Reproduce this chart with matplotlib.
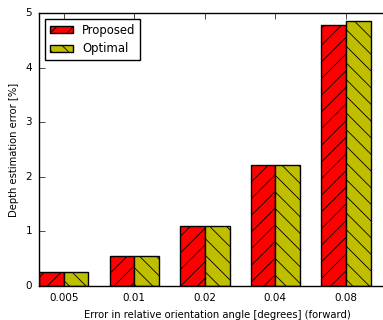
import numpy as np
import matplotlib
matplotlib.use('Agg')
import matplotlib.pyplot as plt

plt.style.use('classic')
plt.rcParams['hatch.linewidth'] = 0.6

angles = ['0.005', '0.01', '0.02', '0.04', '0.08']
proposed = [0.26, 0.545, 1.10, 2.22, 4.78]
optimal = [0.26, 0.545, 1.10, 2.22, 4.86]

fig = plt.figure(figsize=(3.83, 3.20), dpi=100)
fig.patch.set_facecolor('white')
ax = fig.add_axes([0.102, 0.106, 0.93, 0.853])

x = np.arange(len(angles))
w = 0.35
ax.bar(x - w, proposed, w, align='edge', color='r', edgecolor='k', hatch='//', label='Proposed')
ax.bar(x, optimal, w, align='edge', color='y', edgecolor='k', hatch='\\\\', label='Optimal')

ax.set_xlim(-0.35, 4.70)
ax.set_ylim(0, 5)
ax.set_xticks(x)
ax.set_xticklabels(angles)
ax.set_yticks([0, 1, 2, 3, 4, 5])
ax.tick_params(labelsize=7.5, pad=5)
ax.set_xlabel('Error in relative orientation angle [degrees] (forward)', fontsize=7.2)
ax.set_ylabel('Depth estimation error [%]', fontsize=7.2)
ax.legend(loc='upper left', fontsize=8.4, handleheight=0.6, labelspacing=0.5)

fig.savefig('out.png', dpi=100)
